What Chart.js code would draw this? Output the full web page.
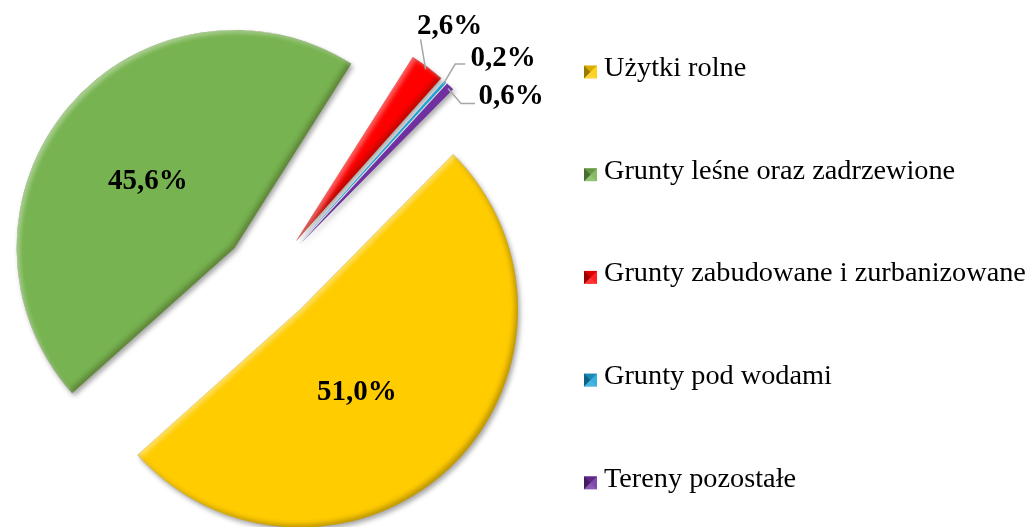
<!DOCTYPE html>
<html>
<head>
<meta charset="utf-8">
<script src="https://cdn.jsdelivr.net/npm/chart.js@4.4.0/dist/chart.umd.min.js"></script>
<style>
    html, body { margin: 0; padding: 0; background: #fff; }
    #wrap { position: relative; width: 1030px; height: 527px; }
</style>
</head>
<body>
<div id="wrap"><canvas id="landChart"></canvas></div>
<script>
const categories = ["Użytki rolne", "Grunty leśne oraz zadrzewione", "Grunty zabudowane i zurbanizowane", "Grunty pod wodami", "Tereny pozostałe"];
const shares = [51.0, 45.6, 2.6, 0.2, 0.6];
const sliceColors = ["#FFCC00", "#77B350", "#FF0000", "#1CA3D9", "#7030A0"];

const formatShare = v => v.toFixed(1).replace(".", ",") + "%";
const arcProps = ["x", "y", "startAngle", "endAngle", "outerRadius"];

function slicePath(a) {
    const p = new Path2D();
    p.moveTo(a.x, a.y);
    p.arc(a.x, a.y, a.outerRadius, a.startAngle, a.endAngle);
    p.closePath();
    return p;
}

// shadow cast from outside the slice onto its inner edges (bevel look)
function innerShadow(ctx, path, a, color, dx, dy, blur) {
    const r = a.outerRadius + 40;
    const frame = new Path2D();
    frame.rect(a.x - r, a.y - r, 2 * r, 2 * r);
    frame.addPath(path);
    ctx.save();
    ctx.clip(path);
    ctx.shadowColor = color;
    ctx.shadowBlur = blur;
    ctx.shadowOffsetX = dx;
    ctx.shadowOffsetY = dy;
    ctx.fillStyle = color;
    ctx.fill(frame, "evenodd");
    ctx.restore();
}

const explodedPie = {
    id: "explodedPie",
    beforeDatasetDraw(chart, args, opts) {
        const ctx = chart.ctx;
        args.meta.data.forEach(arc => {
            const a = arc.getProps(arcProps, true);
            const mid = (a.startAngle + a.endAngle) / 2;
            const dx = Math.cos(mid) * opts.distance;
            const dy = Math.sin(mid) * opts.distance;
            const path = slicePath(a);
            const sweep = (a.endAngle - a.startAngle) * 180 / Math.PI;

            ctx.save();
            ctx.translate(dx, dy);
            ctx.shadowColor = "rgba(0,0,0,0.35)";
            ctx.shadowBlur = 5;
            ctx.shadowOffsetX = 2;
            ctx.shadowOffsetY = 3;
            arc.draw(ctx);
            ctx.restore();

            // thin slivers keep their colour, only the wider ones get the bevel
            if (sweep < 5) return;
            ctx.save();
            ctx.translate(dx, dy);
            innerShadow(ctx, path, a, "rgba(40,30,0,0.55)", -3, -3, 5);
            innerShadow(ctx, path, a, "rgba(255,255,255,0.6)", 3, 3, 4);
            ctx.restore();
        });
        return false;
    }
};

const sliceLabels = {
    id: "sliceLabels",
    afterDatasetsDraw(chart, args, opts) {
        const ctx = chart.ctx;
        const meta = chart.getDatasetMeta(0);
        const values = chart.data.datasets[0].data;
        const distance = chart.options.plugins.explodedPie.distance;
        ctx.save();
        ctx.font = opts.font;
        ctx.fillStyle = "#000";
        ctx.textAlign = "center";
        ctx.textBaseline = "middle";
        meta.data.forEach((arc, i) => {
            const a = arc.getProps(arcProps, true);
            const mid = (a.startAngle + a.endAngle) / 2;
            const cx = a.x + Math.cos(mid) * distance;
            const cy = a.y + Math.sin(mid) * distance;
            const text = formatShare(values[i]);
            const callout = opts.callouts[i];
            if (!callout) {
                const place = opts.inside[i];
                const ang = mid + place.turn * Math.PI / 180;
                const r = a.outerRadius * place.depth;
                ctx.fillText(text, cx + Math.cos(ang) * r, cy + Math.sin(ang) * r);
                return;
            }
            const tipX = cx + Math.cos(mid) * (a.outerRadius - 3);
            const tipY = cy + Math.sin(mid) * (a.outerRadius - 3);
            ctx.strokeStyle = "#A6A6A6";
            ctx.lineWidth = 1.5;
            ctx.beginPath();
            ctx.moveTo(tipX, tipY);
            callout.line.forEach(p => ctx.lineTo(tipX + p[0], tipY + p[1]));
            ctx.stroke();
            ctx.fillText(text, tipX + callout.label[0], tipY + callout.label[1]);
        });
        ctx.restore();
    }
};

function drawMarker(ctx, x, y, s, color) {
    const cx = x + s / 2, cy = y + s / 2;
    ctx.fillStyle = color;
    ctx.fillRect(x, y, s, s);
    const tri = (pts, style) => {
        ctx.beginPath();
        ctx.moveTo(pts[0][0], pts[0][1]);
        ctx.lineTo(pts[1][0], pts[1][1]);
        ctx.lineTo(cx, cy);
        ctx.closePath();
        ctx.fillStyle = style;
        ctx.fill();
    };
    tri([[x, y], [x, y + s]], "rgba(0,0,0,0.4)");
    tri([[x, y], [x + s, y]], "rgba(0,0,0,0.15)");
    tri([[x + s, y], [x + s, y + s]], "rgba(255,255,255,0.12)");
    tri([[x, y + s], [x + s, y + s]], "rgba(255,255,255,0.2)");
}

const sideLegend = {
    id: "sideLegend",
    afterDraw(chart, args, opts) {
        const ctx = chart.ctx;
        const colors = chart.data.datasets[0].backgroundColor;
        ctx.save();
        ctx.font = opts.font;
        ctx.textAlign = "left";
        ctx.textBaseline = "alphabetic";
        chart.data.labels.forEach((label, i) => {
            const base = opts.top + i * opts.step;
            drawMarker(ctx, opts.markerX, base - 4 - opts.markerSize / 2, opts.markerSize, colors[i]);
            ctx.fillStyle = "#000";
            ctx.fillText(label, opts.textX, base);
        });
        ctx.restore();
    }
};

new Chart(document.getElementById("landChart"), {
    type: "pie",
    data: {
        labels: categories,
        datasets: [{
            data: shares,
            backgroundColor: sliceColors,
            borderWidth: 0
        }]
    },
    options: {
        responsive: true,
        maintainAspectRatio: false,
        animation: false,
        events: [],
        rotation: 44.6,
        radius: 218,
        layout: {
            padding: { left: 0, right: 492, top: 27, bottom: 0 }
        },
        plugins: {
            legend: { display: false },
            tooltip: { enabled: false },
            explodedPie: { distance: 45 },
            sliceLabels: {
                font: "bold 29px 'Liberation Serif'",
                inside: [
                    { depth: 0.46, turn: 9 },
                    { depth: 0.50, turn: -3 }
                ],
                callouts: [
                    null,
                    null,
                    { line: [[-5, -30]], label: [24, -43] },
                    { line: [[12, -20], [22, -20]], label: [60, -26] },
                    { line: [[13, 15], [27, 15]], label: [63, 8] }
                ]
            },
            sideLegend: {
                font: "28.3px 'Liberation Serif'",
                markerX: 584,
                markerSize: 13,
                textX: 604,
                top: 76,
                step: 102.7
            }
        }
    },
    plugins: [explodedPie, sliceLabels, sideLegend]
});
</script>
</body>
</html>
